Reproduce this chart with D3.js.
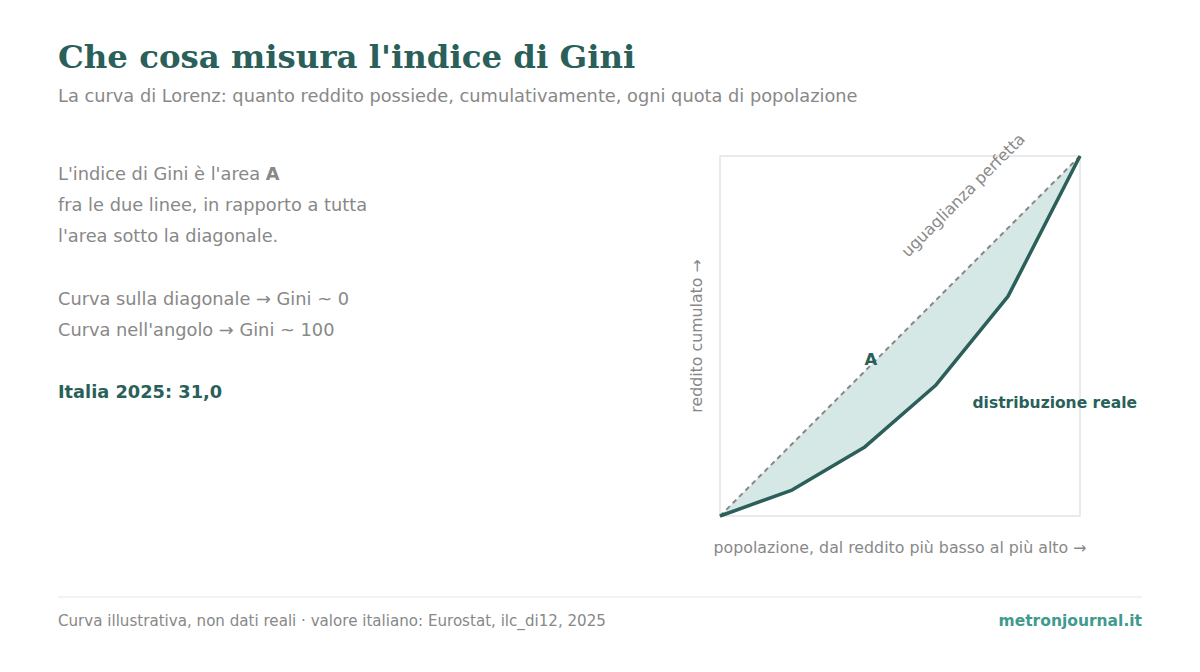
<!DOCTYPE html>
<html><head><meta charset="utf-8">
<script src="https://cdn.jsdelivr.net/npm/d3@7"></script>
<style>body{margin:0;background:#fff}</style></head>
<body><svg id="c" width="1200" height="672"></svg>
<script>
const population = [0, 0.2, 0.4, 0.6, 0.8, 1];
const income = [0, 0.072, 0.19, 0.364, 0.61, 1];
const equality = [0, 1];
const textLines = ["fra le due linee, in rapporto a tutta", "l'area sotto la diagonale."];
const svg = d3.select("#c");
const F = "DejaVu Sans, sans-serif";
const green = "#2a5f5a", grey = "#888";
const BS = 17.8;
svg.append("text").attr("x",58).attr("y",68).attr("font-family","DejaVu Serif, serif").attr("font-weight","bold").attr("font-size",32.4).attr("fill",green).text("Che cosa misura l'indice di Gini");
svg.append("text").attr("x",58).attr("y",102).attr("font-family",F).attr("font-size",BS).attr("fill",grey).text("La curva di Lorenz: quanto reddito possiede, cumulativamente, ogni quota di popolazione");
const t1 = svg.append("text").attr("x",58).attr("y",180).attr("font-family",F).attr("font-size",BS).attr("fill",grey);
t1.append("tspan").text("L'indice di Gini è l'area ");
t1.append("tspan").attr("font-weight","bold").text("A");
textLines.forEach((s,i)=>svg.append("text").attr("x",58).attr("y",211+31*i).attr("font-family",F).attr("font-size",BS).attr("fill",grey).text(s));
svg.append("text").attr("x",58).attr("y",305).attr("font-family",F).attr("font-size",BS).attr("fill",grey).text("Curva sulla diagonale → Gini ~ 0");
svg.append("text").attr("x",58).attr("y",336).attr("font-family",F).attr("font-size",BS).attr("fill",grey).text("Curva nell'angolo → Gini ~ 100");
svg.append("text").attr("x",58).attr("y",398).attr("font-family",F).attr("font-size",BS).attr("font-weight","bold").attr("fill",green).text("Italia 2025: 31,0");

const x = d3.scaleLinear().domain([0,1]).range([720,1080]);
const y = d3.scaleLinear().domain([0,1]).range([516,156]);
svg.append("rect").attr("x",720).attr("y",156).attr("width",360).attr("height",360).attr("fill","none").attr("stroke","#e3e3e3").attr("stroke-width",1.5);
const pts = population.map((p,i)=>[p,income[i]]);
const area = pts.concat([[1,1],[0,0]]);
svg.append("path").attr("d",d3.line().x(d=>x(d[0])).y(d=>y(d[1]))(area)+"Z").attr("fill","#d6e8e6");
svg.append("path").attr("d",d3.line().x(d=>x(d)).y(d=>y(d))(equality)).attr("stroke",grey).attr("stroke-width",2).attr("stroke-dasharray","5,4").attr("fill","none");
svg.append("path").attr("d",d3.line().x(d=>x(d[0])).y(d=>y(d[1]))(pts)).attr("stroke",green).attr("stroke-width",3.5).attr("fill","none").attr("stroke-linejoin","round");
svg.append("text").attr("x",871).attr("y",365).attr("text-anchor","middle").attr("font-family",F).attr("font-size",16.5).attr("font-weight","bold").attr("fill",green).text("A");
svg.append("text").attr("x",1137).attr("y",408).attr("text-anchor","end").attr("font-family",F).attr("font-size",15.5).attr("font-weight","bold").attr("fill",green).text("distribuzione reale");
svg.append("text").attr("transform","translate(908,258) rotate(-45)").attr("font-family",F).attr("font-size",16).attr("fill",grey).text("uguaglianza perfetta");
svg.append("text").attr("x",900).attr("y",553).attr("text-anchor","middle").attr("font-family",F).attr("font-size",15.8).attr("fill",grey).text("popolazione, dal reddito più basso al più alto →");
svg.append("text").attr("transform","translate(702,336) rotate(-90)").attr("text-anchor","middle").attr("font-family",F).attr("font-size",15.8).attr("fill",grey).text("reddito cumulato →");
svg.append("line").attr("x1",58).attr("x2",1142).attr("y1",597).attr("y2",597).attr("stroke","#e6e6e6");
svg.append("text").attr("x",58).attr("y",626).attr("font-family",F).attr("font-size",15.1).attr("fill",grey).text("Curva illustrativa, non dati reali · valore italiano: Eurostat, ilc_di12, 2025");
svg.append("text").attr("x",1142).attr("y",626).attr("text-anchor","end").attr("font-family",F).attr("font-size",15.5).attr("font-weight","bold").attr("fill","#3f9a8f").text("metronjournal.it");
</script></body></html>
